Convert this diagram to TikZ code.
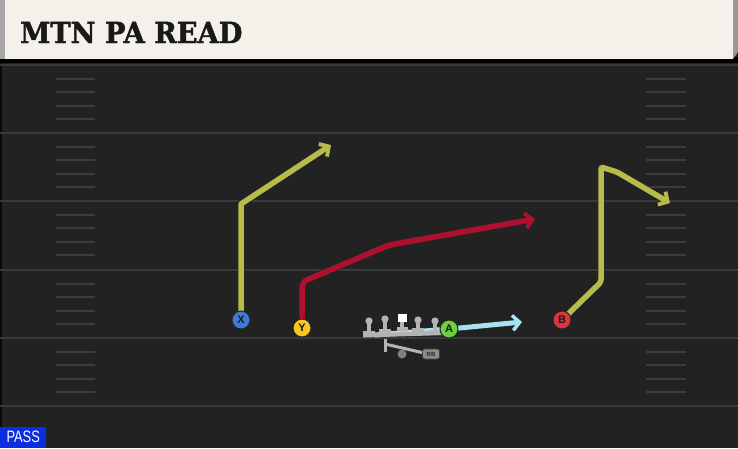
\documentclass[tikz,border=0pt]{standalone}
\usepackage{fontspec}
\usepackage{graphicx}
\usetikzlibrary{arrows.meta,calc}
\newfontfamily\titlefont{DejaVu Serif}[BoldFeatures={FakeBold=1.6}]
\newfontfamily\lblfont{Liberation Sans}
\definecolor{fieldbg}{HTML}{222222}
\definecolor{yardcol}{HTML}{3A3A3A}
\definecolor{hashcol}{HTML}{3C3C3C}
\definecolor{headbg}{HTML}{F4F1EA}
\definecolor{olivecol}{HTML}{B8BA4C}
\definecolor{redcol}{HTML}{B0102F}
\definecolor{lightblue}{HTML}{A8E2F0}
\definecolor{xblue}{HTML}{3D7BD8}
\definecolor{yyellow}{HTML}{F6C81E}
\definecolor{bred}{HTML}{E0343C}
\definecolor{agreen}{HTML}{6DD03C}
\definecolor{passblue}{HTML}{0B2EE0}
\definecolor{olgray}{HTML}{B4B4B4}
\tikzset{
  yardline/.style={draw=yardcol, line width=2pt},
  hashmark/.style={draw=hashcol, line width=2pt},
  barbtip/.style={-{Straight Barb[length=7pt,width=15pt,line width=0pt 0.7]}},
  route/.style={line width=5.5pt, line join=round, barbtip,
    preaction={draw=black!85, line width=7pt}},
  player/.style={circle, minimum size=18pt, inner sep=0pt, draw=black!85, line width=1pt,
    font=\lblfont\bfseries\fontsize{11}{11}\selectfont, text=black!90},
  olpart/.style={fill=olgray},
}
\begin{document}
\begin{tikzpicture}[x=1pt,y=-1pt]
\useasboundingbox (0,0) rectangle (738,448);
\fill[fieldbg] (0,0) rectangle (738,448);
\draw[draw=black!70!fieldbg, line width=1.5pt] (1,60) -- (1,448);
% yard lines
\foreach \yy in {65,133,201,270,338,406} { \draw[yardline] (0,\yy) -- (738,\yy); }
% hash marks
\foreach \yy in {65,133,201,270,338} {
  \foreach \k in {1,2,3,4} {
    \draw[hashmark] (56,{\yy+13.6*\k}) -- (95,{\yy+13.6*\k});
    \draw[hashmark] (646,{\yy+13.6*\k}) -- (686,{\yy+13.6*\k});
  }
}
% header
\fill[black] (0,57) rectangle (738,63);
\fill[headbg] (0,0) rectangle (733,59);
\fill[black!40] (733,0) -- (738,0) -- (738,52) -- (733,59) -- cycle;
\fill[black!35] (0,0) rectangle (5,59);
\node[anchor=base west, inner sep=0pt, text=black!90,
  font=\titlefont\bfseries\fontsize{29}{29}\selectfont] (title) at (20,43) {\scalebox{0.94}[1]{MTN PA READ}};
% PASS label
\node[anchor=south west, fill=passblue, text=white, inner sep=0pt, minimum width=46pt, minimum height=21pt,
  font=\lblfont\fontsize{16.5}{16.5}\selectfont] (pass) at (0,448) {\scalebox{0.78}[1]{PASS}};

% players
\coordinate (X) at (241,320);
\coordinate (Y) at (302,328);
\coordinate (B) at (562,320);
\coordinate (A) at (449,329);
% X route
\coordinate (x1) at (241,204);
\coordinate (x2) at (331,145);
\draw[route, olivecol] (X) -- (x1) -- (x2);
% Y route
\coordinate (y1) at (302,282);
\coordinate (y2) at (389,245);
\coordinate (y3) at (535,219);
\draw[route, redcol, rounded corners=6pt] (Y) -- (y1) -- (y2) -- (y3);
% B route
\coordinate (b1) at (601,282);
\coordinate (b2) at (601,167);
\coordinate (b3) at (617,172);
\coordinate (b4) at (670,203);
\draw[route, olivecol, rounded corners=2pt] (B) -- (b1) -- (b2) -- (b3) -- (b4);
% A route
\coordinate (a0) at (375,335);
\coordinate (a2) at (522,322);
\draw[lightblue, line width=5pt] (a0) -- (A);
\draw[lightblue, line width=5pt, barbtip] (A) -- (a2);

% offensive line
\fill[olgray] (363,333.5) -- (447,330.5) -- (447,335) -- (363,337.5) -- cycle;
\foreach \xx/\hy/\by in {369/321/335, 385/319/333, 418/320/332, 435/321/334} {
  \fill[olpart] (\xx,\hy) circle (3.6pt);
  \fill[olpart] (\xx-2,\hy) rectangle (\xx+2,\by);
  \fill[olpart] (\xx-6,\by-4.5) rectangle (\xx+6,\by);
}
\fill[olpart] (400,321) rectangle (404,331);
\fill[olpart] (396.5,326.5) rectangle (408,331);
\fill[white] (397.5,313.5) rectangle (406.5,322);
% running back
\draw[olgray, line width=3pt] (385,339) -- (385,352);
\draw[olgray, line width=3pt] (385,344) -- (424,353);
\fill[black!50] (402,354) circle (4.5pt);
\node[fill=black!45, draw=black!75, line width=0.6pt, rounded corners=2.5pt, minimum width=17pt, minimum height=10pt,
  inner sep=0pt, font=\lblfont\bfseries\fontsize{6}{6}\selectfont, text=black!85] (rb) at (431,354) {RB};

% player circles
\node[player, fill=xblue] (px) at (X) {X};
\node[player, fill=yyellow] (py) at (Y) {Y};
\node[player, fill=bred] (pb) at (B) {B};
\node[player, fill=agreen] (pa) at (A) {A};
\end{tikzpicture}
\end{document}
